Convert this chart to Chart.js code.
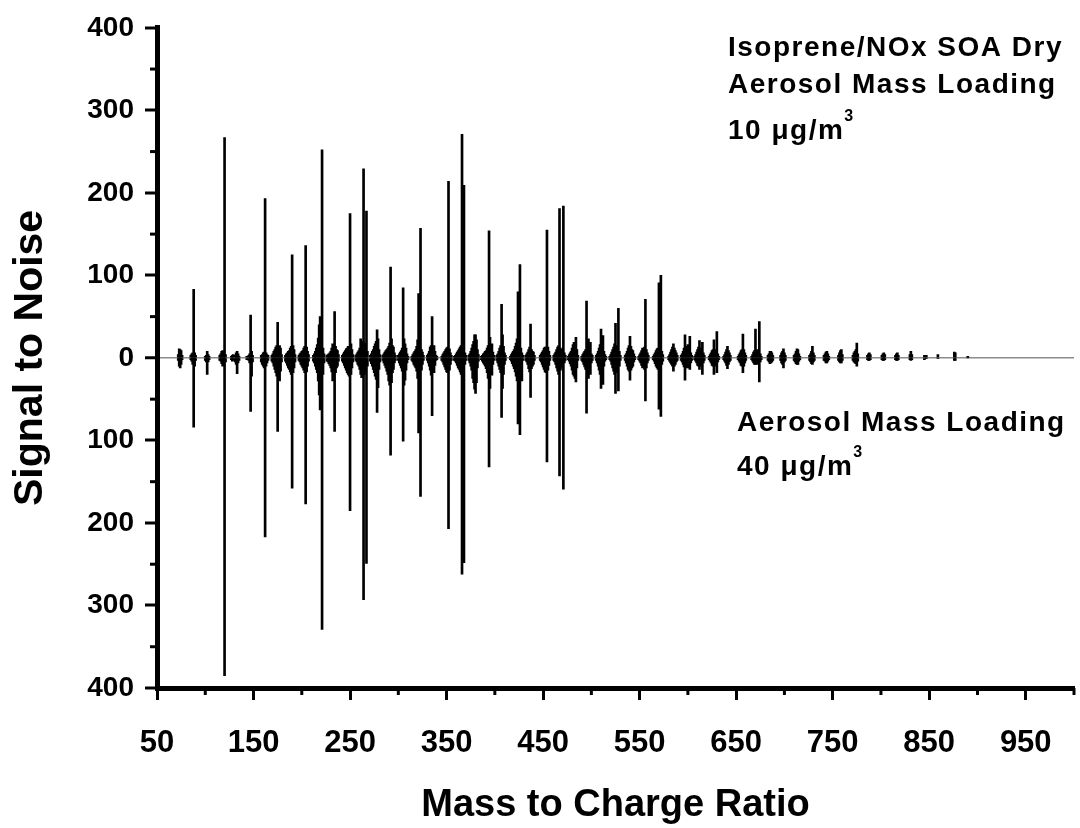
<!DOCTYPE html>
<html lang="en">
<head>
  <meta charset="UTF-8" />
  <title>Isoprene/NOx SOA mass spectrum</title>
  <script src="https://cdn.jsdelivr.net/npm/chart.js"></script>
  <style>
    body { margin: 0; background: #fff; }
    .chart-box { width: 1080px; height: 828px; }
  </style>
</head>
<body>
  <div class="chart-box"><canvas id="spectrum"></canvas></div>

  <script>
    // m/z of each peak, one line per ion cluster
    const mz = [
      72, 73, 74, 75, 76,
      85, 86, 87, 88, 89, 90,
      100, 101, 102, 103, 104,
      115, 116, 117, 118, 119, 120, 121,
      127, 128, 129, 131, 132, 133, 134, 135,
      143, 145, 146, 147, 148, 149,
      158, 159, 160, 161, 162, 163, 164, 165,
      169, 170, 171, 172, 173, 174, 175, 176, 177, 178, 179,
      183, 184, 185, 186, 187, 188, 189, 190, 191, 192, 193,
      197, 198, 199, 200, 201, 202, 203, 204, 205, 206, 207,
      212, 213, 214, 215, 216, 217, 218, 219, 220, 221, 222, 223,
      226, 227, 228, 229, 230, 231, 232, 233, 234, 235, 236, 237, 238,
      242, 243, 244, 245, 246, 247, 248, 249, 250, 251, 252, 253,
      256, 257, 258, 259, 260, 261, 262, 263, 264, 265, 266, 267, 268,
      271, 272, 273, 274, 275, 276, 277, 278, 279, 280, 281,
      284, 285, 286, 287, 288, 289, 290, 291, 292, 293, 294, 295, 296, 297,
      300, 301, 302, 303, 304, 305, 306, 307, 308, 309, 310,
      314, 315, 316, 317, 318, 319, 320, 321, 322, 323, 324, 325, 326,
      330, 331, 332, 333, 334, 335, 336, 337, 338, 339, 340,
      345, 346, 347, 348, 349, 350, 351, 352, 353, 354, 355,
      358, 359, 360, 361, 362, 363, 364, 365, 366, 367, 368, 369, 370,
      373, 374, 375, 376, 377, 378, 379, 380, 381, 382, 383,
      386, 387, 388, 389, 390, 391, 392, 393, 394, 395, 396, 397, 398, 399,
      402, 403, 404, 405, 406, 407, 408, 409, 410, 411,
      416, 417, 418, 419, 420, 421, 422, 423, 424, 425, 426, 427, 428, 429,
      432, 433, 434, 435, 436, 437, 438, 439, 440, 441,
      447, 448, 449, 450, 451, 452, 453, 454, 455, 456, 457,
      461, 462, 463, 464, 465, 466, 467, 468, 469, 470, 471, 472, 473,
      476, 477, 478, 479, 480, 481, 482, 483, 484, 485, 486,
      490, 491, 492, 493, 494, 495, 496, 497, 498, 499, 500, 501,
      505, 506, 507, 508, 509, 510, 511, 512, 513, 514, 515,
      519, 520, 521, 522, 523, 524, 525, 526, 527, 528, 529, 530,
      535, 536, 537, 538, 539, 540, 541, 542, 543, 544, 545,
      549, 550, 551, 552, 553, 554, 555, 556, 557, 558, 559,
      564, 565, 566, 567, 568, 569, 570, 571, 572, 573, 574,
      580, 581, 582, 583, 584, 585, 586, 587, 588, 589,
      593, 594, 595, 596, 597, 598, 599, 600, 601, 602, 603, 604,
      607, 608, 609, 610, 611, 612, 613, 614, 615, 616, 617,
      622, 623, 624, 625, 626, 627, 628, 629, 630, 631, 632,
      637, 638, 639, 640, 641, 642, 643, 644,
      652, 653, 654, 655, 656, 657, 658, 659, 660,
      666, 667, 668, 669, 670, 671, 672, 673, 674, 675, 676,
      683, 684, 685, 686, 687, 688,
      696, 697, 698, 699, 700, 701,
      710, 711, 712, 713, 714, 715, 716,
      726, 727, 728, 729, 730, 731,
      741, 742, 743, 744, 745, 746,
      756, 757, 758, 759, 760,
      771, 772, 773, 774, 775, 776,
      786, 787, 788, 789,
      801, 802, 803, 804,
      815, 816, 817, 818,
      830, 831, 832,
      845, 847,
      859,
      876, 877,
      890
    ];

    // signal to noise at 10 ug/m3 (drawn upward)
    const sn10 = [
      4, 11, 10, 9, 3,
      3, 5, 6, 83, 6, 3,
      2, 3, 8, 4, 2,
      3, 5, 8, 9, 6, 267, 4,
      2, 3, 4, 3, 6, 8, 5, 2,
      2, 3, 5, 52, 8, 3,
      3, 4, 6, 7, 193, 6, 4, 3,
      3, 5, 8, 10, 13, 15, 43, 14, 15, 12, 4,
      3, 5, 6, 8, 9, 12, 14, 125, 15, 10, 4,
      3, 5, 6, 8, 9, 12, 14, 136, 13, 8, 4,
      3, 5, 8, 12, 16, 24, 40, 50, 30, 252, 12, 5,
      3, 4, 5, 6, 8, 12, 17, 15, 56, 14, 10, 9, 4,
      3, 5, 7, 9, 11, 12, 14, 14, 175, 17, 10, 4,
      3, 5, 7, 9, 12, 23, 20, 15, 229, 18, 12, 178, 8,
      3, 5, 8, 10, 14, 17, 20, 34, 23, 10, 4,
      3, 5, 7, 9, 10, 12, 14, 18, 110, 23, 15, 13, 6, 3,
      3, 5, 7, 9, 12, 85, 23, 17, 12, 5, 2,
      2, 4, 6, 8, 10, 14, 22, 78, 30, 157, 10, 7, 3,
      3, 5, 8, 13, 15, 50, 10, 15, 8, 3, 2,
      2, 4, 6, 8, 10, 12, 13, 214, 11, 6, 3,
      2, 3, 5, 7, 9, 11, 13, 15, 271, 20, 209, 6, 3,
      3, 5, 8, 12, 16, 20, 28, 28, 22, 10, 4,
      2, 3, 5, 6, 8, 9, 12, 15, 154, 25, 12, 17, 7, 3,
      3, 5, 8, 12, 15, 65, 28, 14, 6, 3,
      2, 4, 6, 8, 10, 14, 18, 23, 80, 30, 113, 12, 6, 3,
      3, 5, 7, 10, 13, 41, 10, 8, 7, 3,
      3, 5, 7, 9, 12, 13, 13, 155, 13, 8, 3,
      3, 5, 7, 10, 13, 15, 181, 12, 9, 10, 184, 6, 3,
      2, 4, 6, 8, 12, 16, 19, 15, 25, 10, 3,
      2, 4, 6, 8, 10, 69, 15, 23, 12, 19, 5, 3,
      3, 5, 8, 12, 16, 35, 12, 27, 8, 4, 2,
      2, 4, 7, 10, 13, 17, 42, 15, 10, 60, 8, 3,
      3, 5, 8, 12, 15, 26, 14, 10, 9, 5, 2,
      2, 4, 6, 9, 12, 10, 13, 71, 10, 6, 3,
      2, 4, 6, 9, 11, 12, 91, 10, 100, 8, 4,
      2, 4, 7, 10, 13, 17, 12, 9, 6, 3,
      3, 5, 8, 12, 28, 14, 10, 16, 12, 26, 6, 3,
      2, 4, 7, 10, 13, 21, 12, 9, 19, 6, 3,
      2, 4, 6, 9, 10, 22, 10, 8, 32, 5, 2,
      2, 4, 7, 10, 14, 9, 6, 3,
      2, 4, 6, 9, 10, 29, 10, 6, 3,
      2, 4, 7, 9, 35, 8, 10, 8, 44, 5, 2,
      3, 5, 8, 8, 6, 3,
      3, 6, 8, 11, 6, 3,
      3, 5, 8, 11, 10, 5, 2,
      3, 5, 8, 14, 6, 3,
      3, 5, 7, 8, 5, 2,
      3, 6, 9, 10, 4,
      3, 6, 8, 10, 18, 5,
      3, 5, 6, 4,
      3, 5, 6, 4,
      3, 5, 6, 3,
      4, 8, 4,
      3, 3,
      4,
      7, 6,
      2
    ];

    // signal to noise at 40 ug/m3 (drawn downward, axis shows magnitude)
    const sn40 = [
      3, 10, 12, 8, 2,
      2, 4, 8, 84, 10, 3,
      3, 5, 20, 5, 2,
      3, 4, 7, 10, 8, 385, 5,
      2, 4, 3, 5, 8, 19, 6, 3,
      2, 3, 6, 65, 22, 5,
      5, 8, 10, 12, 217, 10, 6, 3,
      4, 6, 10, 14, 18, 22, 89, 20, 28, 16, 5,
      4, 6, 9, 12, 14, 17, 20, 158, 18, 12, 5,
      3, 5, 8, 10, 12, 15, 18, 177, 17, 10, 4,
      4, 6, 10, 14, 18, 28, 45, 63, 35, 329, 20, 6,
      4, 5, 7, 9, 12, 17, 28, 20, 89, 18, 12, 10, 4,
      4, 6, 9, 12, 15, 18, 20, 22, 185, 20, 12, 5,
      3, 5, 8, 10, 14, 20, 24, 20, 293, 20, 16, 249, 10,
      4, 7, 10, 14, 18, 22, 26, 66, 36, 14, 5,
      3, 6, 9, 12, 16, 20, 28, 33, 118, 30, 18, 14, 6, 3,
      3, 6, 9, 12, 16, 101, 33, 27, 15, 6, 2,
      3, 5, 8, 10, 12, 16, 25, 91, 40, 168, 15, 8, 3,
      3, 6, 10, 15, 21, 70, 14, 18, 9, 3, 2,
      3, 5, 8, 11, 14, 17, 18, 207, 15, 8, 3,
      3, 4, 6, 9, 12, 14, 17, 20, 262, 24, 248, 8, 3,
      3, 6, 10, 15, 25, 30, 38, 43, 30, 12, 4,
      2, 4, 6, 8, 10, 13, 18, 25, 132, 37, 18, 21, 8, 3,
      3, 6, 10, 14, 18, 72, 37, 20, 8, 3,
      2, 4, 7, 10, 13, 17, 22, 28, 80, 35, 93, 15, 28, 3,
      3, 5, 8, 13, 17, 48, 13, 10, 8, 3,
      3, 5, 8, 11, 14, 17, 18, 126, 15, 9, 3,
      3, 5, 8, 12, 16, 20, 143, 15, 10, 12, 159, 6, 3,
      2, 4, 7, 10, 15, 20, 22, 25, 29, 12, 3,
      3, 5, 8, 11, 14, 67, 18, 25, 15, 20, 6, 3,
      3, 6, 10, 15, 20, 37, 15, 32, 10, 4, 2,
      2, 4, 8, 12, 16, 20, 43, 18, 12, 40, 10, 3,
      3, 6, 10, 14, 16, 27, 15, 12, 10, 5, 2,
      2, 4, 6, 9, 12, 10, 14, 52, 12, 6, 3,
      2, 4, 7, 10, 12, 14, 62, 12, 71, 8, 4,
      2, 4, 6, 8, 10, 16, 10, 8, 5, 3,
      3, 5, 8, 11, 27, 12, 10, 12, 10, 14, 6, 3,
      2, 4, 6, 9, 10, 14, 10, 8, 20, 6, 3,
      2, 4, 6, 9, 10, 20, 10, 8, 18, 5, 2,
      2, 4, 6, 9, 13, 8, 5, 3,
      2, 4, 6, 9, 10, 18, 10, 6, 3,
      2, 4, 6, 8, 8, 6, 8, 7, 29, 5, 2,
      3, 5, 7, 6, 5, 3,
      3, 6, 8, 12, 5, 3,
      3, 5, 7, 8, 8, 4, 2,
      3, 5, 7, 8, 5, 3,
      3, 4, 6, 6, 4, 2,
      3, 5, 6, 6, 3,
      3, 5, 6, 7, 10, 4,
      2, 3, 3, 2,
      2, 3, 3, 2,
      2, 3, 3, 2,
      2, 3, 2,
      2, 1,
      1,
      3, 3,
      0
    ];

    const xTicks = [50, 150, 250, 350, 450, 550, 650, 750, 850, 950];
    const xMinorTicks = [100, 200, 300, 400, 500, 600, 700, 800, 900, 1000];
    const yMinorTicks = [-350, -250, -150, -50, 50, 150, 250, 350];

    const labelTop = ['Isoprene/NOx SOA Dry', 'Aerosol Mass Loading', '10 \u03bcg/m'];
    const labelBottom = ['Aerosol Mass Loading', '40 \u03bcg/m'];

    const FONT = '"Liberation Sans", Arial, sans-serif';

    // minor ticks + the two text blocks
    const decor = {
      id: 'decor',
      afterDraw(chart) {
        const { ctx, scales: { x, y } } = chart;
        ctx.save();
        ctx.strokeStyle = '#000';
        ctx.lineWidth = 3;
        yMinorTicks.forEach(v => {
          const py = y.getPixelForValue(v);
          ctx.beginPath(); ctx.moveTo(x.left - 7, py); ctx.lineTo(x.left, py); ctx.stroke();
        });
        xMinorTicks.forEach(v => {
          const px = x.getPixelForValue(v);
          ctx.beginPath(); ctx.moveTo(px, y.bottom); ctx.lineTo(px, y.bottom + 7); ctx.stroke();
        });

        ctx.fillStyle = '#000';
        ctx.textBaseline = 'alphabetic';
        ctx.textAlign = 'left';
        const block = (lines, left, baselines) => {
          lines.forEach((t, i) => {
            ctx.font = 'bold 28px ' + FONT;
            ctx.letterSpacing = '1.5px';
            ctx.fillText(t, left, baselines[i]);
            if (i === lines.length - 1) {
              const w = ctx.measureText(t).width;
              ctx.font = 'bold 16px ' + FONT;
              ctx.letterSpacing = '0px';
              ctx.fillText('3', left + w, baselines[i] - 18);
            }
          });
        };
        block(labelTop, 728, [56, 93, 139]);
        block(labelBottom, 737, [431, 475]);
        ctx.restore();
      }
    };

    new Chart(document.getElementById('spectrum'), {
      type: 'bar',
      data: {
        datasets: [
          {
            label: '10 ug/m3',
            data: mz.map((m, i) => ({ x: m, y: sn10[i] })),
            backgroundColor: '#000',
            barThickness: 2,
            grouped: false
          },
          {
            label: '40 ug/m3',
            data: mz.map((m, i) => ({ x: m, y: -sn40[i] })),
            backgroundColor: '#000',
            barThickness: 2,
            grouped: false
          }
        ]
      },
      options: {
        responsive: true,
        maintainAspectRatio: false,
        animation: false,
        layout: { padding: { top: 25, right: 6, left: 0, bottom: 0 } },
        plugins: {
          legend: { display: false },
          tooltip: { enabled: false }
        },
        scales: {
          x: {
            type: 'linear',
            min: 50,
            max: 1000,
            offset: false,
            afterBuildTicks: s => { s.ticks = xTicks.map(v => ({ value: v })); },
            afterFit: s => { s.height = 140; },
            border: { width: 5, color: '#000' },
            grid: { drawOnChartArea: false, offset: false, tickLength: 12, tickWidth: 3, tickColor: '#000' },
            ticks: {
              color: '#000',
              padding: 25,
              maxRotation: 0,
              autoSkip: false,
              font: { family: FONT, weight: 'bold', size: 31 }
            },
            title: {
              display: true,
              text: 'Mass to Charge Ratio',
              color: '#000',
              padding: { top: 0, bottom: 0 },
              font: { family: FONT, weight: 'bold', size: 38 }
            }
          },
          y: {
            min: -400,
            max: 400,
            afterFit: s => { s.width = 157; },
            border: { width: 5, color: '#000' },
            grid: {
              color: c => (c.tick && c.tick.value === 0 ? '#8c8c8c' : 'rgba(0,0,0,0)'),
              lineWidth: c => (c.tick && c.tick.value === 0 ? 1.5 : 0),
              tickLength: 12,
              tickWidth: 3,
              tickColor: '#000'
            },
            ticks: {
              stepSize: 100,
              color: '#000',
              padding: 11,
              font: { family: FONT, weight: 'bold', size: 28 },
              callback: v => Math.abs(v)
            },
            title: {
              display: true,
              text: 'Signal to Noise',
              color: '#000',
              padding: { top: 6, bottom: 0 },
              font: { family: FONT, weight: 'bold', size: 41 }
            }
          }
        }
      },
      plugins: [decor]
    });
  </script>
</body>
</html>
